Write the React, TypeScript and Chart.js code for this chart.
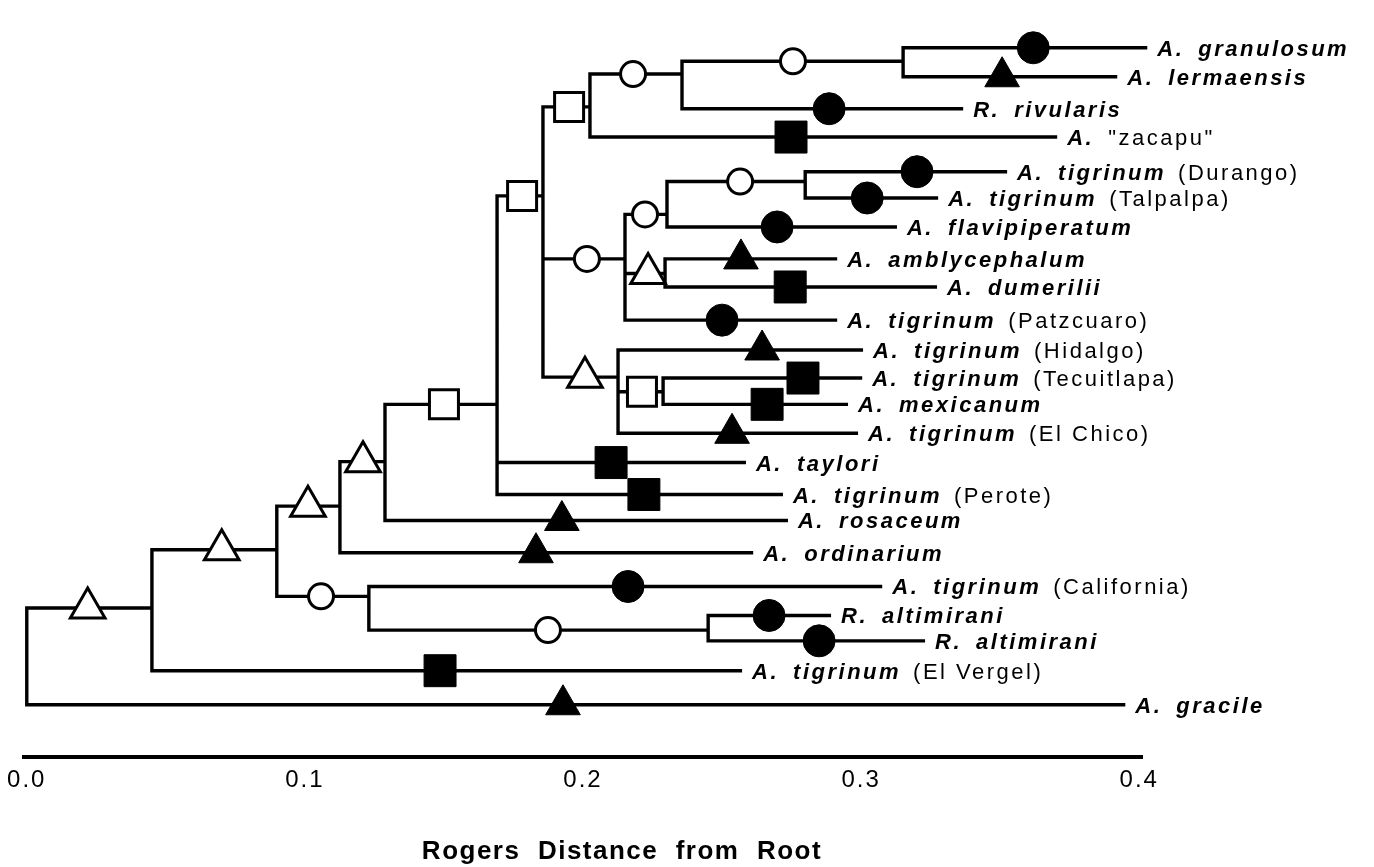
import { useEffect, useRef } from "react";
import { Chart, registerables } from "chart.js";
Chart.register(...registerables);

// ---------- Data ----------
// Axis
const TICK_VALUES = [0, 0.1, 0.2, 0.3, 0.4];
const TICK_LABELS = ["0.0", "0.1", "0.2", "0.3", "0.4"];
const AXIS_TITLE = "Rogers  Distance  from  Root";

// Leaves (top to bottom)
const LEAF_GENUS = ["A.", "A.", "R.", "A.", "A.", "A.", "A.", "A.", "A.", "A.", "A.", "A.", "A.", "A.", "A.", "A.", "A.", "A.", "A.", "R.", "R.", "A.", "A."];
const LEAF_SPECIES = ["granulosum", "lermaensis", "rivularis", "", "tigrinum", "tigrinum", "flavipiperatum", "amblycephalum", "dumerilii", "tigrinum", "tigrinum", "tigrinum", "mexicanum", "tigrinum", "taylori", "tigrinum", "rosaceum", "ordinarium", "tigrinum", "altimirani", "altimirani", "tigrinum", "gracile"];
const LEAF_LOCALITY = ["", "", "", "\"zacapu\"", "(Durango)", "(Talpalpa)", "", "", "", "(Patzcuaro)", "(Hidalgo)", "(Tecuitlapa)", "", "(El Chico)", "", "(Perote)", "", "", "(California)", "", "", "(El Vergel)", ""];
const LEAF_DISTANCE = [0.4029, 0.3921, 0.3367, 0.3705, 0.3525, 0.3277, 0.3129, 0.2914, 0.3273, 0.2914, 0.3007, 0.3004, 0.2953, 0.2989, 0.2586, 0.2719, 0.2737, 0.2612, 0.3076, 0.2892, 0.3230, 0.2572, 0.3950];
const LEAF_ROW = [1.0, 1.97, 3.04, 3.99, 5.15, 6.03, 7.0, 8.07, 9.01, 10.12, 11.12, 12.06, 12.94, 13.91, 14.89, 15.96, 16.83, 17.91, 19.04, 20.01, 20.86, 21.86, 23.0];
const LEAF_PARENT = [9, 9, 8, 7, 12, 12, 11, 13, 13, 10, 14, 15, 15, 14, 5, 5, 4, 3, 16, 17, 17, 1, 0];
const LEAF_MARK_SHAPE = ["circle", "triangle", "circle", "rect", "circle", "circle", "circle", "triangle", "rect", "circle", "triangle", "rect", "rect", "triangle", "rect", "rect", "triangle", "triangle", "circle", "circle", "circle", "rect", "triangle"];
const LEAF_MARK_DISTANCE = [0.3619, 0.3507, 0.2885, 0.2748, 0.3201, 0.3022, 0.2698, 0.2568, 0.2745, 0.25, 0.2644, 0.2791, 0.2662, 0.2536, 0.2101, 0.2219, 0.1924, 0.1831, 0.2162, 0.2669, 0.2849, 0.1486, 0.1928];

// Internal nodes (0 = root)
const NODE_DISTANCE = [0.0, 0.045, 0.0899, 0.1126, 0.1288, 0.1691, 0.1856, 0.2025, 0.2356, 0.3151, 0.2151, 0.2302, 0.2799, 0.2295, 0.2126, 0.2288, 0.123, 0.245];
const NODE_ROW = [NaN, 19.76, 17.81, 16.35, 14.86, 12.94, 5.96, 2.98, 1.88, 1.45, 8.07, 6.58, 5.48, 8.56, 12.03, 12.52, 19.37, 20.5];
const NODE_PARENT = [-1, 0, 1, 2, 3, 4, 5, 6, 7, 8, 6, 10, 11, 10, 6, 14, 2, 16];
const NODE_MARK_SHAPE = ["", "triangle", "triangle", "triangle", "triangle", "rect", "rect", "rect", "circle", "circle", "circle", "circle", "circle", "triangle", "triangle", "rect", "circle", "circle"];
const NODE_MARK_DISTANCE = [NaN, 0.0219, 0.0701, 0.1011, 0.1209, 0.15, 0.1781, 0.195, 0.218, 0.2755, 0.2014, 0.2223, 0.2565, 0.2234, 0.2007, 0.2212, 0.1058, 0.1874];

// ---------- Build tree line segments ----------
type P = { x: number; y: number };
function buildBranches(): P[] {
  const pts: P[] = [];
  for (let n = 0; n < NODE_DISTANCE.length; n++) {
    const kids: P[] = [];
    NODE_PARENT.forEach((p, i) => {
      if (p === n) kids.push({ x: NODE_DISTANCE[i], y: NODE_ROW[i] });
    });
    LEAF_PARENT.forEach((p, i) => {
      if (p === n) kids.push({ x: LEAF_DISTANCE[i], y: LEAF_ROW[i] });
    });
    if (!kids.length) continue;
    kids.sort((a, b) => a.y - b.y);
    const nx = NODE_DISTANCE[n];
    const first = kids[0];
    const last = kids[kids.length - 1];
    pts.push({ x: first.x, y: first.y }, { x: nx, y: first.y }, { x: nx, y: last.y }, { x: last.x, y: last.y });
    pts.push({ x: NaN, y: NaN });
    for (let k = 1; k < kids.length - 1; k++) {
      pts.push({ x: nx, y: kids[k].y }, { x: kids[k].x, y: kids[k].y }, { x: NaN, y: NaN });
    }
  }
  return pts;
}

function markerPoints(filled: boolean, shape: string): P[] {
  const out: P[] = [];
  if (filled) {
    LEAF_MARK_SHAPE.forEach((s, i) => {
      if (s === shape) out.push({ x: LEAF_MARK_DISTANCE[i], y: LEAF_ROW[i] });
    });
  } else {
    NODE_MARK_SHAPE.forEach((s, i) => {
      if (s === shape) out.push({ x: NODE_MARK_DISTANCE[i], y: NODE_ROW[i] });
    });
  }
  return out;
}

const SHAPE_RADIUS: Record<string, number> = { circle: 16, rect: 22.6, triangle: 20 };
const OPEN_RADIUS: Record<string, number> = { circle: 12.5, rect: 20.5, triangle: 20 };

const FONT = '"Liberation Sans", Arial, sans-serif';

const labelPlugin = {
  id: "leafLabels",
  beforeDraw(chart: any) {
    chart.ctx.letterSpacing = "2px";
  },
  afterDatasetsDraw(chart: any) {
    const { ctx, scales } = chart;
    const xs = scales.x;
    const ys = scales.y;
    ctx.save();
    ctx.fillStyle = "#000";
    ctx.textAlign = "left";
    ctx.textBaseline = "alphabetic";
    ctx.letterSpacing = "2.5px";
    for (let i = 0; i < LEAF_GENUS.length; i++) {
      let px = xs.getPixelForValue(LEAF_DISTANCE[i]) + 10;
      const py = ys.getPixelForValue(LEAF_ROW[i]) + 8;
      ctx.font = `italic bold 22px ${FONT}`;
      ctx.fillText(LEAF_GENUS[i], px, py);
      px += ctx.measureText(LEAF_GENUS[i]).width + 14;
      if (LEAF_SPECIES[i]) {
        ctx.fillText(LEAF_SPECIES[i], px, py);
        px += ctx.measureText(LEAF_SPECIES[i]).width + 12;
      }
      if (LEAF_LOCALITY[i]) {
        ctx.font = `22px ${FONT}`;
        ctx.fillText(LEAF_LOCALITY[i], px, py);
      }
    }
    ctx.font = `bold 26px ${FONT}`;
    ctx.textAlign = "center";
    ctx.letterSpacing = "1.5px";
    ctx.fillText(AXIS_TITLE, chart.chartArea.left + 598, 859);
    ctx.restore();
  },
  afterDraw(chart: any) {
    chart.ctx.letterSpacing = "0px";
  },
};

export default function App() {
  const ref = useRef<HTMLCanvasElement | null>(null);
  useEffect(() => {
    document.body.style.margin = "0";
    const canvas = ref.current;
    if (!canvas) return;
    const shapes = ["circle", "rect", "triangle"];
    const datasets: any[] = [];
    shapes.forEach((s) => {
      datasets.push({
        data: markerPoints(true, s),
        pointStyle: s,
        pointRadius: SHAPE_RADIUS[s],
        pointBackgroundColor: "#000",
        pointBorderColor: "#000",
        pointBorderWidth: 1,
        showLine: false,
        clip: false,
        order: 1,
      });
      datasets.push({
        data: markerPoints(false, s),
        pointStyle: s,
        pointRadius: OPEN_RADIUS[s],
        pointBackgroundColor: "#fff",
        pointBorderColor: "#000",
        pointBorderWidth: 3,
        showLine: false,
        clip: false,
        order: 1,
      });
    });
    datasets.push({
      data: buildBranches(),
      showLine: true,
      pointRadius: 0,
      borderColor: "#000",
      borderWidth: 3.4,
      spanGaps: false,
      tension: 0,
      borderJoinStyle: "miter",
      borderCapStyle: "butt",
      clip: false,
      order: 10,
    });
    const chart = new Chart(canvas, {
      type: "scatter",
      data: { datasets },
      plugins: [labelPlugin],
      options: {
        animation: false,
        responsive: false,
        devicePixelRatio: 1,
        events: [],
        layout: { padding: { left: 24, right: 232, top: 0, bottom: 0 } },
        plugins: { legend: { display: false }, tooltip: { enabled: false } },
        scales: {
          x: {
            type: "linear",
            min: -0.001,
            max: 0.401,
            grid: { display: false, drawTicks: false },
            border: { display: true, width: 4, color: "#000" },
            afterBuildTicks: (scale: any) => {
              scale.ticks = TICK_VALUES.map((v) => ({ value: v }));
            },
            afterFit: (scale: any) => {
              scale.height = 110;
            },
            ticks: {
              autoSkip: false,
              maxRotation: 0,
              minRotation: 0,
              padding: 9,
              color: "#000",
              font: { family: FONT, size: 24 },
              callback: (v: any) => {
                const idx = TICK_VALUES.findIndex((t) => Math.abs(t - Number(v)) < 1e-9);
                return idx >= 0 ? TICK_LABELS[idx] : "";
              },
            },
          },
          y: {
            type: "linear",
            display: false,
            reverse: true,
            min: 0.19,
            max: 24.75,
          },
        },
      },
    });
    return () => chart.destroy();
  }, []);
  return (
    <canvas
      ref={ref}
      width={1374}
      height={867}
      style={{ display: "block", width: 1374, height: 867 }}
    />
  );
}
